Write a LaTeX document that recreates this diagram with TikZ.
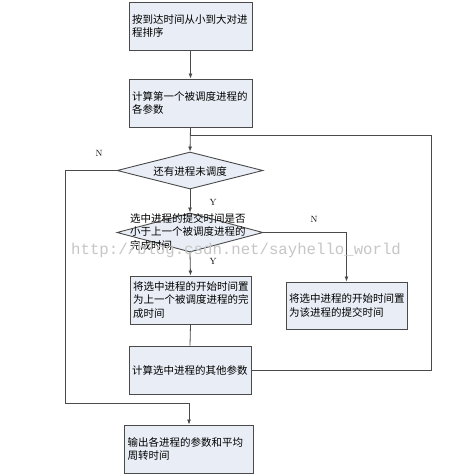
\documentclass[tikz,border=0pt]{standalone}
\usepackage{fontspec}
\newfontfamily\cjk{Noto Sans CJK SC}
\newfontfamily\wmfont{Liberation Mono}
\usetikzlibrary{shapes.geometric,arrows.meta}
\definecolor{boxfill}{HTML}{E9EEF6}
\definecolor{boxline}{HTML}{4A4A4A}
\begin{document}
\begin{tikzpicture}[x=1pt,y=-1pt,
  procbox/.style={draw=boxline,line width=0.9pt,fill=boxfill,rectangle,
    minimum width=#1,minimum height=48pt,inner sep=3pt,text width=#1-6pt,
    align=left,font=\cjk\fontsize{10.5}{13.5}\selectfont,anchor=center},
  procbox/.default=123pt,
  decbox/.style={draw=boxline,line width=0.9pt,fill=boxfill,diamond,
    minimum width=146pt,minimum height=#1,inner sep=0pt,anchor=center},
  decbox/.default=38pt,
  arr/.style={draw=boxline,line width=0.8pt,-{Latex[length=5pt,width=4pt]}},
  ln/.style={draw=boxline,line width=0.8pt},
  lbl/.style={font=\fontsize{9}{10}\selectfont,inner sep=0pt},
  ctext/.style={font=\cjk\fontsize{10.5}{13.5}\selectfont,inner sep=0pt,align=left}
]
\useasboundingbox[fill=white] (0,0) rectangle (456,474);

\node[procbox] (b1) at (190.5,26) {按到达时间从小到大对进\\程排序};
\node[procbox] (b2) at (190.5,103) {计算第一个被调度进程的\\各参数};
\node[decbox=37pt] (d1) at (190,170.5) {};
\node[ctext,anchor=center] (t1) at (190,171) {还有进程未调度};
\node[decbox=39pt] (d2) at (190,232.5) {};
\node[ctext,anchor=north west] (t2) at (130,213) {选中进程的提交时间是否\\小于上一个被调度进程的\\完成时间};
\node[procbox=121pt] (b3) at (190.5,300) {将选中进程的开始时间置\\为上一个被调度进程的完\\成时间};
\node[procbox=121pt,minimum height=47pt] (b4) at (346.5,305.5) {将选中进程的开始时间置\\为该进程的提交时间};
\node[procbox=122pt] (b5) at (190,370) {计算选中进程的其他参数};
\node[procbox=129pt] (b6) at (189,449) {输出各进程的参数和平均\\周转时间};

\coordinate (j1) at (190,135);
\coordinate (rr) at (431,135);
\coordinate (lc) at (65,403);

\draw[arr] (b1.south) -- (b2.north);
\draw[arr] (b2.south) -- (d1.north);
\draw[ln] (b5.east) -| (rr) -- (j1);
\draw[arr] (d1.west) -| (lc) -| (b6.north);
\draw[arr] (d1.south) -- (d2.north);
\draw[arr] (d2.east) -| (b4.north);
\draw[arr] (d2.south) -- (b3.north);
\draw[ln] (b3.south) -- (b5.north);

\node[lbl] (n1) at (99,153) {N};
\node[lbl] (y1) at (213,202) {Y};
\node[lbl] (n2) at (314,219) {N};
\node[lbl] (y2) at (213,261) {Y};

\node[font=\wmfont\fontsize{15.7}{16}\selectfont,text=gray!45,inner sep=0pt,anchor=base west] (wm) at (71,254) {http://blog.csdn.net/sayhello\_world};
\end{tikzpicture}
\end{document}
